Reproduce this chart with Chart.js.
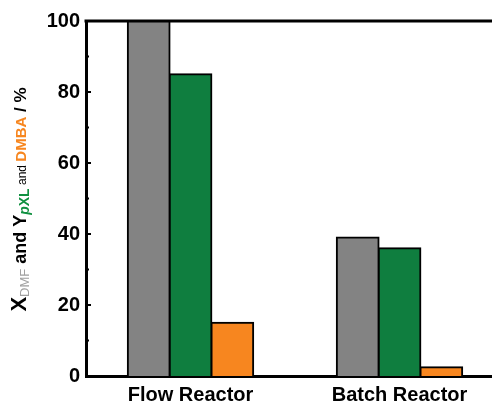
<!DOCTYPE html>
<html>
<head>
<meta charset="utf-8">
<script src="https://cdn.jsdelivr.net/npm/chart.js@4.4.1/dist/chart.umd.min.js"></script>
<style>
  html, body { margin: 0; padding: 0; overflow: hidden; background: #fff; }
  #wrap { width: 505px; height: 404px; }
</style>
</head>
<body>
<div id="wrap"><canvas id="chart" width="505" height="404"></canvas></div>
<script>
  // reactor types on the x axis
  const categories = ['Flow Reactor', 'Batch Reactor'];
  // conversion of DMF, yield of pXL, yield of DMBA (%)
  const convDMF = [100, 39];
  const yieldPXL = [85, 36];
  const yieldDMBA = [15, 2.5];
  const yTicks = [0, 20, 40, 60, 80, 100];

  const FONT = '"Liberation Sans", Arial, sans-serif';

  // frame (top line) + inward tick marks like the origin plot
  const framePlugin = {
    id: 'frame',
    afterDatasetsDraw(chart) {
      const { ctx, chartArea } = chart;
      const y = chart.scales.y;
      ctx.save();
      ctx.strokeStyle = '#000';
      ctx.lineWidth = 3;
      ctx.beginPath();
      ctx.moveTo(chartArea.left - 1.5, chartArea.top);
      ctx.lineTo(chartArea.right + 10, chartArea.top);
      ctx.stroke();
      ctx.lineWidth = 2;
      for (let v = 0; v <= 100; v += 10) {
        const py = y.getPixelForValue(v);
        const len = v % 20 === 0 ? 5 : 3;
        ctx.beginPath();
        ctx.moveTo(chartArea.left, py);
        ctx.lineTo(chartArea.left + len, py);
        ctx.stroke();
      }
      ctx.restore();
    }
  };

  // rotated multicolour y title with subscripts
  const yTitlePlugin = {
    id: 'yTitle',
    afterDraw(chart) {
      const { ctx, chartArea } = chart;
      const parts = [
        { t: 'X', f: 'bold 22px ' + FONT, c: '#000', dy: 0 },
        { t: 'DMF', f: '13px ' + FONT, c: '#a0a0a0', dy: 3 },
        { t: ' and Y', f: 'bold 18px ' + FONT, c: '#000', dy: 0 },
        { t: 'p', f: 'italic bold 14px ' + FONT, c: '#109040', dy: 3 },
        { t: 'XL', f: 'bold 14px ' + FONT, c: '#109040', dy: 3 },
        { t: ' and ', f: '12px ' + FONT, c: '#000', dy: 0 },
        { t: 'DMBA', f: 'bold 15px ' + FONT, c: '#f7861f', dy: 0 },
        { t: ' / %', f: 'bold 17px ' + FONT, c: '#000', dy: 0 }
      ];
      ctx.save();
      let total = 0;
      parts.forEach(p => { ctx.font = p.f; p.w = ctx.measureText(p.t).width; total += p.w; });
      const cy = (chartArea.top + chartArea.bottom) / 2 + 1;
      ctx.translate(26, cy);
      ctx.rotate(-Math.PI / 2);
      ctx.textBaseline = 'alphabetic';
      let x = -total / 2;
      parts.forEach(p => {
        ctx.font = p.f;
        ctx.fillStyle = p.c;
        ctx.fillText(p.t, x, p.dy);
        x += p.w;
      });
      ctx.restore();
    }
  };

  const ctx = document.getElementById('chart').getContext('2d');
  new Chart(ctx, {
    type: 'bar',
    data: {
      labels: categories,
      datasets: [
        { label: 'X DMF', data: convDMF, backgroundColor: '#838383' },
        { label: 'Y pXL', data: yieldPXL, backgroundColor: '#0f7e3f' },
        { label: 'Y DMBA', data: yieldDMBA, backgroundColor: '#f7861f' }
      ].map(d => Object.assign(d, {
        borderColor: '#000',
        borderWidth: 2,
        borderSkipped: 'bottom',
        inflateAmount: 1,
        barPercentage: 1.0,
        categoryPercentage: 0.6
      }))
    },
    options: {
      responsive: false,
      animation: false,
      layout: { padding: { top: 21, right: 1, left: 0, bottom: 0 } },
      plugins: {
        legend: { display: false },
        tooltip: { enabled: false }
      },
      scales: {
        x: {
          grid: { display: false, drawTicks: false },
          border: { display: true, color: '#000', width: 3 },
          ticks: {
            color: '#000',
            padding: 7,
            font: { family: FONT, size: 20, weight: 'bold' }
          },
          afterFit(scale) { scale.height = 28; }
        },
        y: {
          min: 0,
          max: 100,
          afterBuildTicks(scale) { scale.ticks = yTicks.map(v => ({ value: v })); },
          grid: { display: false, drawTicks: false },
          border: { display: true, color: '#000', width: 3 },
          ticks: {
            color: '#000',
            padding: 6,
            font: { family: FONT, size: 20, weight: 'bold' }
          },
          afterFit(scale) { scale.width = 86; }
        }
      }
    },
    plugins: [framePlugin, yTitlePlugin]
  });
</script>
</body>
</html>
